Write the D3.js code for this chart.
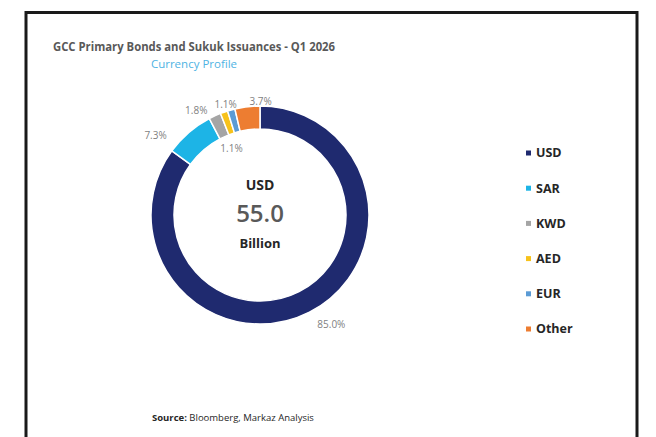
<!DOCTYPE html>
<html>
<head>
<meta charset="utf-8">
<script src="https://cdn.jsdelivr.net/npm/d3@7"></script>
<style>
  html, body { margin: 0; padding: 0; background: #fff; }
  svg { display: block; }
</style>
</head>
<body>
<div id="chart"></div>
<script>
// ── Data ──────────────────────────────────────────────────────
const currencies = ['USD', 'SAR', 'KWD', 'AED', 'EUR', 'Other'];
const shares     = [85.0, 7.3, 1.8, 1.1, 1.1, 3.7];
const totalLabel = ['USD', '55.0', 'Billion'];

(function () {
  'use strict';

  const W = 656, H = 437;
  const FONT = '"Open Sans", "Noto Sans", sans-serif';

  const COLORS = {
    USD:   '#1f2a6f',
    SAR:   '#1db4e6',
    KWD:   '#a5a5a5',
    AED:   '#f7c21b',
    EUR:   '#5b9bd5',
    Other: '#ed7d31'
  };

  // hand tuned label placement (angle shift in degrees, radius)
  const LABEL_POS = {
    USD:   { da: -6,  r: 131 },
    SAR:   { da: -12, r: 131 },
    KWD:   { da: -7,  r: 122 },
    AED:   { da: 2,   r: 116 },
    EUR:   { da: -8,  r: 72 },
    Other: { da: 7,   r: 114 }
  };

  const data = currencies.map((c, i) => ({ key: c, value: shares[i] }));

  const svg = d3.select('#chart').append('svg')
    .attr('width', W).attr('height', H);

  // frame
  svg.append('path')
    .attr('d', `M26,${H + 5} V12.5 H637 V${H + 5}`)
    .attr('fill', 'none')
    .attr('stroke', '#1a1a1a')
    .attr('stroke-width', 3);

  // titles
  svg.append('text')
    .attr('x', 53).attr('y', 51)
    .attr('font-family', FONT).attr('font-size', '12px').attr('font-weight', 700)
    .attr('fill', '#595959')
    .attr('textLength', 282).attr('lengthAdjust', 'spacingAndGlyphs')
    .text('GCC Primary Bonds and Sukuk Issuances - Q1 2026');

  svg.append('text')
    .attr('x', 194).attr('y', 67.5)
    .attr('text-anchor', 'middle')
    .attr('font-family', FONT).attr('font-size', '11.5px')
    .attr('fill', '#4fb3e3')
    .text('Currency Profile');

  // ── Donut ──────────────────────────────────────────────────
  const cx = 260, cy = 215, R = 109, r0 = 86;
  const g = svg.append('g').attr('transform', `translate(${cx},${cy})`);

  const pie = d3.pie().value(d => d.value).sort(null);
  const arc = d3.arc().innerRadius(r0).outerRadius(R);
  const arcs = pie(data);

  g.selectAll('path.slice')
    .data(arcs)
    .join('path')
    .attr('class', 'slice')
    .attr('d', arc)
    .attr('fill', d => COLORS[d.data.key])
    .attr('stroke', '#fff')
    .attr('stroke-width', 1.5);

  // percentage labels
  g.selectAll('text.pct')
    .data(arcs)
    .join('text')
    .attr('class', 'pct')
    .attr('transform', d => {
      const p = LABEL_POS[d.data.key];
      const a = (d.startAngle + d.endAngle) / 2 + p.da * Math.PI / 180;
      return `translate(${p.r * Math.sin(a)},${-p.r * Math.cos(a)})`;
    })
    .attr('text-anchor', 'middle')
    .attr('dy', '0.35em')
    .attr('font-family', FONT).attr('font-size', '10px')
    .attr('fill', '#7f7f7f')
    .text(d => d3.format('.1f')(d.data.value) + '%');

  // centre text
  g.append('text').attr('y', -30).attr('text-anchor', 'middle').attr('dy', '0.35em')
    .attr('font-family', FONT).attr('font-size', '14px').attr('font-weight', 700)
    .attr('fill', '#262626').text(totalLabel[0]);
  g.append('text').attr('y', -1).attr('text-anchor', 'middle').attr('dy', '0.35em')
    .attr('font-family', FONT).attr('font-size', '24px').attr('font-weight', 600)
    .attr('fill', '#595959').text(totalLabel[1]);
  g.append('text').attr('y', 28).attr('text-anchor', 'middle').attr('dy', '0.35em')
    .attr('font-family', FONT).attr('font-size', '13px').attr('font-weight', 700)
    .attr('fill', '#262626').text(totalLabel[2]);

  // ── Legend ─────────────────────────────────────────────────
  const ly = d3.scalePoint().domain(currencies).range([153, 329]);
  const lg = svg.append('g').selectAll('g')
    .data(currencies)
    .join('g')
    .attr('transform', d => `translate(526,${ly(d)})`);

  lg.append('rect')
    .attr('x', 0).attr('y', -2.5).attr('width', 5).attr('height', 5)
    .attr('fill', d => COLORS[d]);
  lg.append('text')
    .attr('x', 10).attr('dy', '0.35em')
    .attr('font-family', FONT).attr('font-size', '12.5px').attr('font-weight', 700)
    .attr('fill', '#262626')
    .text(d => d);

  // source
  const src = svg.append('text')
    .attr('x', 152).attr('y', 421)
    .attr('font-family', FONT).attr('font-size', '9.5px')
    .attr('fill', '#262626');
  src.append('tspan').attr('font-weight', 700).text('Source:');
  src.append('tspan').text(' Bloomberg, Markaz Analysis');
})();
</script>
</body>
</html>
